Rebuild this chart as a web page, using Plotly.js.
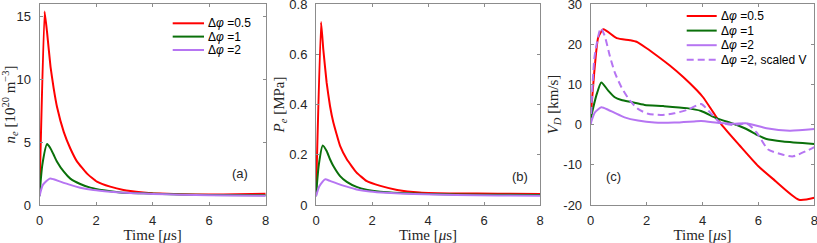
<!DOCTYPE html>
<html><head><meta charset="utf-8">
<script src="https://cdn.plot.ly/plotly-3.0.1.min.js"></script>
<style>html,body{margin:0;padding:0;background:#fff}#plot{width:817px;height:243px}</style>
</head><body><div id="plot"></div>
<script>
// ---- Panel (a): electron density n_e [1e20 m^-3]
const tA_red = [0, 0.18, 0.27, 0.39, 0.5, 0.62, 0.86, 1.09, 1.33, 1.68, 2.03, 2.5, 2.97, 3.67, 4.0, 5.0, 6.0, 7.0, 8.0];
const nA_red = [0.8, 15.4, 13.7, 11.0, 9.3, 7.8, 5.8, 4.5, 3.45, 2.5, 1.86, 1.46, 1.2, 1.0, 0.93, 0.85, 0.83, 0.86, 0.9];
const tA_grn = [0, 0.1, 0.27, 0.39, 0.5, 0.62, 0.86, 1.09, 1.44, 1.8, 2.27, 2.85, 3.67, 5.0, 6.0, 8.0];
const nA_grn = [0.7, 3.2, 4.85, 4.5, 4.0, 3.45, 2.65, 2.1, 1.67, 1.38, 1.17, 1.0, 0.93, 0.84, 0.8, 0.78];
const tA_pur = [0, 0.12, 0.36, 0.5, 0.74, 1.09, 1.44, 1.91, 2.5, 3.2, 4.0, 5.0, 6.0, 8.0];
const nA_pur = [0.7, 1.6, 2.1, 2.05, 1.86, 1.6, 1.38, 1.19, 1.06, 0.95, 0.88, 0.82, 0.78, 0.74];

// ---- Panel (b): electron pressure P_e [MPa]
const tB_red = [0, 0.18, 0.26, 0.38, 0.5, 0.62, 0.86, 1.1, 1.45, 1.8, 2.3, 2.9, 3.7, 5.0, 6.5, 8.0];
const pB_red = [0.036, 0.728, 0.62, 0.487, 0.394, 0.328, 0.235, 0.182, 0.129, 0.096, 0.076, 0.06, 0.05, 0.046, 0.045, 0.044];
const tB_grn = [0, 0.1, 0.24, 0.38, 0.5, 0.62, 0.86, 1.1, 1.45, 1.8, 2.3, 3.0, 4.0, 6.0, 8.0];
const pB_grn = [0.035, 0.16, 0.237, 0.215, 0.182, 0.155, 0.115, 0.092, 0.072, 0.061, 0.053, 0.048, 0.044, 0.041, 0.04];
const tB_pur = [0, 0.12, 0.32, 0.5, 0.74, 1.1, 1.45, 1.93, 2.5, 3.5, 5.0, 6.5, 8.0];
const pB_pur = [0.035, 0.075, 0.102, 0.096, 0.086, 0.073, 0.062, 0.054, 0.049, 0.044, 0.04, 0.038, 0.037];

// ---- Panel (c): drift velocity V_D [km/s]
const tC_red = [0, 0.15, 0.27, 0.45, 0.93, 1.4, 1.64, 2.0, 2.36, 2.83, 3.3, 3.79, 4.02, 4.38, 4.68, 5.33, 5.99, 6.52, 7.45, 8.0];
const vC_red = [1.8, 14.7, 21.7, 23.7, 21.5, 21.0, 20.6, 19.0, 17.2, 14.7, 11.9, 8.6, 6.8, 3.1, 0.0, -5.2, -10.3, -13.5, -18.7, -18.2];
const tC_grn = [0, 0.2, 0.38, 0.62, 0.86, 1.1, 1.45, 1.93, 2.6, 3.44, 3.95, 4.5, 5.1, 5.57, 5.99, 6.29, 6.88, 8.0];
const vC_grn = [1.5, 7.2, 10.5, 8.5, 6.8, 6.1, 5.6, 4.9, 4.6, 4.1, 3.4, 1.6, 0.2, -1.1, -2.7, -3.6, -4.2, -4.8];
const tC_pur = [0, 0.15, 0.38, 0.62, 0.86, 1.21, 1.69, 2.28, 2.99, 3.7, 3.95, 4.62, 5.1, 5.6, 6.29, 7.12, 8.0];
const vC_pur = [0.2, 3.0, 4.3, 3.7, 2.9, 1.8, 1.0, 0.5, 0.5, 0.8, 0.9, 0.4, 0.2, 0.3, -0.9, -1.5, -1.1];
const tC_pds = [0, 0.14, 0.36, 0.5, 0.68, 0.86, 1.1, 1.4, 1.69, 2.05, 2.52, 2.99, 3.47, 3.95, 4.26, 4.62, 5.1, 5.6, 5.93, 6.35, 6.88, 7.24, 8.0];
const vC_pds = [-0.1, 17.0, 24.0, 22.1, 17.2, 13.0, 9.3, 6.0, 3.9, 2.7, 2.4, 2.8, 3.7, 5.1, 3.1, 0.6, -0.1, 0.2, -1.9, -6.2, -7.5, -7.9, -5.6];

// ---- labels / ticks
const names = ['Δ<i>φ</i> =0.5', 'Δ<i>φ</i> =1', 'Δ<i>φ</i> =2', 'Δ<i>φ</i> =2, scaled V'];
const xTicks = [0, 2, 4, 6, 8];
const yTicksA = [0, 5, 10, 15];
const yTicksB = [0, 0.2, 0.4, 0.6, 0.8];
const yTickTextB = ['0', '0.2', '0.4', '0.6', '0.8'];
const yTicksC = [-20, -10, 0, 10, 20, 30];
const yTickTextC = ['-20', '-10', '0', '10', '20', '30'];

const RED = '#ff0000', GRN = '#0a700a', PUR = '#b675f2';
const COLORS = [RED, GRN, PUR, PUR];
const DASHES = ['solid', 'solid', 'solid', '7px,4px'];
const LW = 2;

function tr(x, y, color, name, xa, ya, dash) {
  return {x: x, y: y, type: 'scatter', mode: 'lines', name: name,
    xaxis: xa, yaxis: ya, showlegend: false,
    line: {color: color, width: LW, shape: 'spline', smoothing: 0.6, dash: dash || 'solid'},
    hoverinfo: 'skip'};
}

const data = [
  tr(tA_red, nA_red, RED, names[0], 'x', 'y'),
  tr(tA_grn, nA_grn, GRN, names[1], 'x', 'y'),
  tr(tA_pur, nA_pur, PUR, names[2], 'x', 'y'),
  tr(tB_red, pB_red, RED, names[0], 'x2', 'y2'),
  tr(tB_grn, pB_grn, GRN, names[1], 'x2', 'y2'),
  tr(tB_pur, pB_pur, PUR, names[2], 'x2', 'y2'),
  tr(tC_red, vC_red, RED, names[0], 'x3', 'y3'),
  tr(tC_grn, vC_grn, GRN, names[1], 'x3', 'y3'),
  tr(tC_pur, vC_pur, PUR, names[2], 'x3', 'y3'),
  tr(tC_pds, vC_pds, PUR, names[3], 'x3', 'y3', DASHES[3])
];
data[0].line.smoothing = 0.35; data[3].line.smoothing = 0.35;

const W = 817, H = 243;
const tickFont = {family: 'Liberation Sans, Arial, sans-serif', size: 13, color: '#262626'};
const legFont = {family: 'Liberation Sans, Arial, sans-serif', size: 12, color: '#000'};
const titleFont = {family: 'Liberation Serif, serif', size: 15, color: '#262626'};
const FRAME = '#8c8c8c';

function xax(dom, anchor) {
  return {domain: dom, anchor: anchor, range: [0, 8], tickvals: xTicks, ticks: 'inside', ticklen: 3,
    tickcolor: FRAME, showline: true, linecolor: FRAME, linewidth: 1, mirror: 'ticks',
    showgrid: false, zeroline: false, tickfont: tickFont, ticklabelstandoff: 3, ticklabeloverflow: 'allow',
    title: {text: 'Time [<i>μ</i>s]', font: titleFont, standoff: 1}};
}
function yax(dom, anchor, range, vals, text, title, standoff) {
  const o = {domain: dom, anchor: anchor, range: range, tickvals: vals, ticks: 'inside', ticklen: 3,
    tickcolor: FRAME, showline: true, linecolor: FRAME, linewidth: 1, mirror: 'ticks',
    showgrid: false, zeroline: false, tickfont: tickFont, ticklabelstandoff: 5, ticklabeloverflow: 'allow',
    title: {text: title, font: titleFont, standoff: standoff}};
  if (text) o.ticktext = text;
  return o;
}

// custom legends (line sample + text), positions in pixels
function legend(entries, xLine0, xLine1, rowsY) {
  const shapes = [], anns = [];
  entries.forEach((k, i) => {
    shapes.push({type: 'line', xref: 'paper', yref: 'paper', x0: xLine0 / W, x1: xLine1 / W,
      y0: 1 - rowsY[i] / H, y1: 1 - rowsY[i] / H,
      line: {color: COLORS[k], width: LW, dash: DASHES[k]}});
    anns.push({text: names[k], xref: 'paper', yref: 'paper', x: (xLine1 + 2) / W, y: 1 - rowsY[i] / H,
      xanchor: 'left', yanchor: 'middle', showarrow: false, font: legFont});
  });
  return {shapes, anns};
}
const legA = legend([0, 1, 2], 172.7, 204, [23.3, 36.6, 50]);
const legC = legend([0, 1, 2, 3], 686.7, 716.7, [16, 30.6, 45.2, 59.8]);

const yDom = [38 / H, 239 / H];
const layout = {
  width: W, height: H, margin: {l: 0, r: 0, t: 0, b: 0},
  paper_bgcolor: '#fff', plot_bgcolor: '#fff', showlegend: false,
  xaxis: xax([39.5 / W, 265.7 / W], 'y'),
  yaxis: yax(yDom, 'x', [0, 16], yTicksA, null, '<i>n</i><sub><i>e</i></sub> [10<sup>20</sup> m<sup>−3</sup>]', 3),
  xaxis2: xax([316 / W, 540 / W], 'y2'),
  yaxis2: yax(yDom, 'x2', [0, 0.8], yTicksB, yTickTextB, '<i>P</i><sub><i>e</i></sub> [MPa]', 1),
  xaxis3: xax([590.7 / W, 814.3 / W], 'y3'),
  yaxis3: yax(yDom, 'x3', [-20, 30], yTicksC, yTickTextC, '<i>V</i><sub><i>D</i></sub> [km/s]', 1),
  shapes: legA.shapes.concat(legC.shapes),
  annotations: [
    {text: '(a)', xref: 'x', yref: 'y', x: 7.1, y: 2.5, showarrow: false, font: tickFont},
    {text: '(b)', xref: 'x2', yref: 'y2', x: 7.3, y: 0.115, showarrow: false, font: tickFont},
    {text: '(c)', xref: 'x3', yref: 'y3', x: 0.8, y: -12.9, showarrow: false, font: tickFont}
  ].concat(legA.anns, legC.anns)
};
Plotly.newPlot('plot', data, layout, {staticPlot: true, displayModeBar: false});
</script></body></html>
